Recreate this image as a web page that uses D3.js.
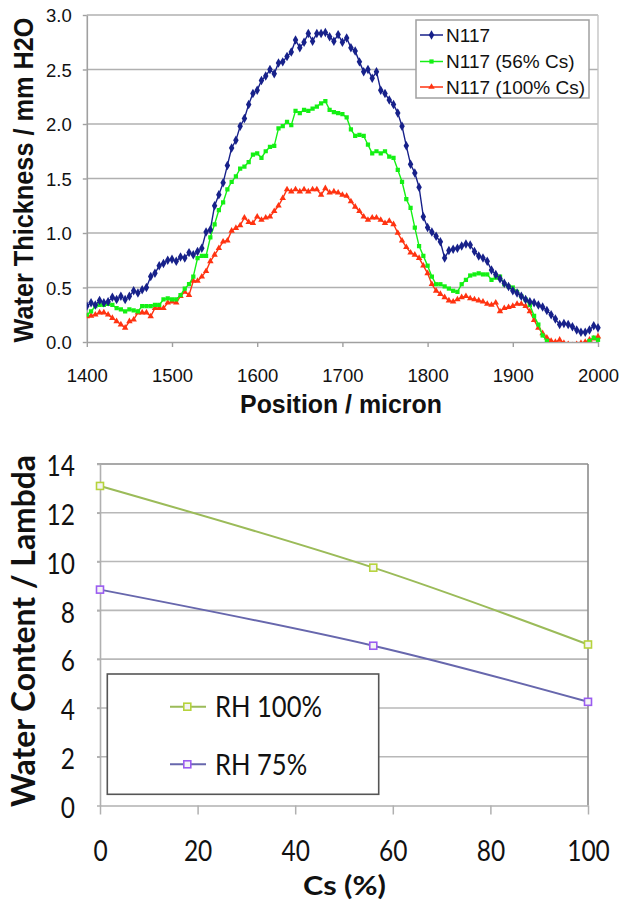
<!DOCTYPE html>
<html>
<head>
<meta charset="utf-8">
<script src="https://cdn.jsdelivr.net/npm/d3@7/dist/d3.min.js"></script>
<style>
  html, body { margin: 0; padding: 0; background: #fff; }
  svg { display: block; }
</style>
</head>
<body>
<svg id="chart" width="620" height="908"></svg>
<script>
// ---------- DATA: top chart ----------
const positions = [
  1400,1405,1410,1415,1420,1425,1430,1435,1440,1445,1450,1455,1460,1465,1470,1475,1480,1485,1490,1495,
  1500,1505,1510,1515,1520,1525,1530,1535,1540,1545,1550,1555,1560,1565,1570,1575,1580,1585,1590,1595,
  1600,1605,1610,1615,1620,1625,1630,1635,1640,1645,1650,1655,1660,1665,1670,1675,1680,1685,1690,1695,
  1700,1705,1710,1715,1720,1725,1730,1735,1740,1745,1750,1755,1760,1765,1770,1775,1780,1785,1790,1795,
  1800,1805,1810,1815,1820,1825,1830,1835,1840,1845,1850,1855,1860,1865,1870,1875,1880,1885,1890,1895,
  1900,1905,1910,1915,1920,1925,1930,1935,1940,1945,1950,1955,1960,1965,1970,1975,1980,1985,1990,1995,
  2000
];
const n117 = [
  0.33,0.36,0.34,0.38,0.36,0.37,0.41,0.39,0.42,0.39,0.42,0.47,0.45,0.48,0.50,0.60,0.63,0.70,0.72,0.75,
  0.76,0.74,0.78,0.77,0.82,0.80,0.83,0.86,1.01,1.03,1.25,1.35,1.46,1.62,1.78,1.85,1.98,2.05,2.18,2.28,
  2.31,2.40,2.44,2.50,2.46,2.56,2.57,2.62,2.66,2.77,2.70,2.75,2.83,2.76,2.83,2.83,2.84,2.80,2.76,2.82,
  2.75,2.79,2.70,2.67,2.57,2.48,2.50,2.42,2.48,2.31,2.28,2.22,2.18,2.10,1.98,1.80,1.63,1.55,1.42,1.15,
  1.05,1.01,0.97,0.92,0.77,0.84,0.85,0.86,0.88,0.90,0.89,0.83,0.79,0.77,0.74,0.66,0.62,0.58,0.54,0.51,
  0.47,0.45,0.42,0.39,0.37,0.36,0.34,0.32,0.29,0.25,0.21,0.16,0.17,0.16,0.14,0.11,0.09,0.09,0.11,0.15,
  0.13
];
const n117cs56 = [
  0.25,0.28,0.33,0.34,0.34,0.35,0.34,0.31,0.30,0.28,0.30,0.29,0.28,0.33,0.33,0.33,0.34,0.34,0.39,0.40,
  0.39,0.39,0.43,0.49,0.53,0.60,0.77,0.79,0.79,0.96,1.08,1.21,1.28,1.40,1.47,1.52,1.59,1.61,1.65,1.72,
  1.73,1.69,1.75,1.79,1.80,1.96,1.98,2.02,1.99,2.12,2.10,2.13,2.12,2.14,2.16,2.19,2.21,2.13,2.11,2.10,
  2.09,2.06,1.95,1.89,1.90,1.89,1.81,1.73,1.75,1.73,1.75,1.70,1.69,1.58,1.47,1.31,1.23,1.05,0.88,0.79,
  0.70,0.60,0.53,0.53,0.51,0.49,0.47,0.46,0.53,0.57,0.61,0.62,0.63,0.62,0.62,0.57,0.59,0.60,0.53,0.51,
  0.50,0.46,0.42,0.39,0.34,0.24,0.16,0.06,0.01,-0.03,-0.06,-0.08,-0.10,-0.10,-0.08,-0.06,-0.05,-0.03,0.01,0.04,
  0.02
];
const n117cs100 = [
  0.235,0.24,0.25,0.27,0.27,0.25,0.22,0.19,0.16,0.13,0.19,0.205,0.27,0.27,0.27,0.235,0.31,0.31,0.31,0.36,
  0.37,0.36,0.42,0.46,0.43,0.56,0.56,0.60,0.65,0.74,0.80,0.86,0.92,0.93,1.02,1.045,1.07,1.14,1.10,1.09,
  1.15,1.12,1.14,1.15,1.20,1.25,1.32,1.40,1.38,1.40,1.38,1.40,1.38,1.40,1.40,1.35,1.41,1.37,1.38,1.37,
  1.35,1.34,1.29,1.24,1.20,1.15,1.12,1.14,1.14,1.12,1.09,1.11,1.08,1.00,0.93,0.87,0.82,0.80,0.77,0.70,
  0.63,0.53,0.47,0.44,0.41,0.38,0.37,0.39,0.41,0.42,0.40,0.39,0.38,0.37,0.35,0.34,0.36,0.28,0.31,0.32,
  0.33,0.35,0.35,0.33,0.28,0.20,0.13,0.08,0.04,0.01,0.00,0.02,-0.01,-0.02,-0.03,-0.02,-0.01,0.00,0.02,0.03,
  0.05
];
const topSeriesNames = ["N117", "N117 (56% Cs)", "N117 (100% Cs)"];
const topXTicks = [1400, 1500, 1600, 1700, 1800, 1900, 2000];
const topYTicks = [0, 0.5, 1.0, 1.5, 2.0, 2.5, 3.0];
const topXTitle = "Position / micron";
const topYTitle = "Water Thickness / mm H2O";

// ---------- DATA: bottom chart ----------
const csPercent = [0, 56, 100];
const rh100 = [13.1, 9.75, 6.6];
const rh75 = [8.85, 6.55, 4.25];
const bottomSeriesNames = ["RH 100%", "RH 75%"];
const bottomXTicks = [0, 20, 40, 60, 80, 100];
const bottomYTicks = [0, 2, 4, 6, 8, 10, 12, 14];
const bottomXTitle = "Cs (%)";
const bottomYTitle = "Water Content / Lambda";

// ---------- helpers ----------
const svg = d3.select("#chart");
function fitText(sel, target) {
  const fs = parseFloat(sel.attr("font-size"));
  const w = sel.node().getComputedTextLength();
  if (w > 0) sel.attr("font-size", (fs * target / w).toFixed(2));
  return sel;
}
// text squeezed/stretched along its own direction so that it spans `target` px
function fitScale(sel, target) {
  const w = sel.node().getComputedTextLength();
  const k = w > 0 ? target / w : 1;
  sel.attr("transform", `scale(${k.toFixed(4)},1)`);
  return k;
}

// ================= TOP CHART =================
(function () {
  const ARIAL = "'Liberation Sans', Arial, sans-serif";
  const x = d3.scaleLinear().domain([1400, 2000]).range([86.8, 598]);
  const y = d3.scaleLinear().domain([0, 3]).range([342, 15]);
  const g = svg.append("g");

  g.append("g").selectAll("line").data(topYTicks.filter(d => d > 0)).join("line")
    .attr("x1", x(1400)).attr("x2", x(2000))
    .attr("y1", d => y(d)).attr("y2", d => y(d))
    .attr("stroke", "#b0b0b0").attr("stroke-width", 1.6);
  g.append("line").attr("x1", x(2000)).attr("x2", x(2000)).attr("y1", y(3)).attr("y2", y(0))
    .attr("stroke", "#c4c4c4").attr("stroke-width", 1.4);

  const ax = g.append("g").attr("transform", `translate(0,${y(0)})`)
    .call(d3.axisBottom(x).tickValues(topXTicks).tickSize(5).tickSizeOuter(0).tickFormat(d3.format("d")));
  ax.select(".domain").attr("stroke", "#a0a0a0").attr("stroke-width", 1.6);
  ax.selectAll(".tick line").attr("stroke", "#a0a0a0").attr("stroke-width", 1.4);
  ax.selectAll(".tick text").attr("y", 33).attr("dy", "0.36em")
    .attr("font-family", ARIAL).attr("font-size", 18.5).attr("fill", "#111");

  const ay = g.append("g").attr("transform", `translate(${x(1400)},0)`)
    .call(d3.axisLeft(y).tickValues(topYTicks).tickSize(4).tickSizeOuter(0).tickFormat(d3.format(".1f")));
  ay.select(".domain").attr("stroke", "#a0a0a0").attr("stroke-width", 1.6);
  ay.selectAll(".tick line").attr("stroke", "#a0a0a0").attr("stroke-width", 1.4);
  ay.selectAll(".tick text").attr("x", -15).attr("dy", "0.36em")
    .attr("font-family", ARIAL).attr("font-size", 18.5).attr("fill", "#111");

  svg.append("defs").append("clipPath").attr("id", "topClip")
    .append("rect").attr("x", x(1400)).attr("y", y(3) - 4).attr("width", x(2000) - x(1400) + 4).attr("height", y(0) - y(3) + 4);

  const series = [
    { name: topSeriesNames[0], values: n117, color: "#17218a", symbol: d3.symbolDiamond, size: 26 },
    { name: topSeriesNames[1], values: n117cs56, color: "#14f014", symbol: d3.symbolSquare, size: 18 },
    { name: topSeriesNames[2], values: n117cs100, color: "#ff3311", symbol: d3.symbolTriangle, size: 18 }
  ];
  const line = d3.line().x((d, i) => x(positions[i])).y(d => y(d));
  const plot = g.append("g").attr("clip-path", "url(#topClip)");
  [2, 1, 0].forEach(k => {
    const s = series[k];
    const sg = plot.append("g");
    sg.append("path").datum(s.values).attr("d", line)
      .attr("fill", "none").attr("stroke", s.color).attr("stroke-width", 1.4);
    sg.selectAll("path.m").data(s.values).join("path").attr("class", "m")
      .attr("transform", (d, i) => `translate(${x(positions[i])},${y(d)})`)
      .attr("d", d3.symbol().type(s.symbol).size(s.size))
      .attr("fill", s.color);
  });

  const lg = g.append("g");
  lg.append("rect").attr("x", 416).attr("y", 20).attr("width", 173).attr("height", 78)
    .attr("fill", "#fff").attr("stroke", "#a0a0a0").attr("stroke-width", 1.5);
  const rows = [35, 61.5, 87];
  series.forEach((s, i) => {
    const ry = rows[i];
    lg.append("line").attr("x1", 420).attr("x2", 443).attr("y1", ry).attr("y2", ry)
      .attr("stroke", s.color).attr("stroke-width", 1.5);
    lg.append("path").attr("transform", `translate(431.5,${ry})`)
      .attr("d", d3.symbol().type(s.symbol).size(s.size)).attr("fill", s.color);
    lg.append("text").attr("x", 446).attr("y", ry).attr("dy", "0.36em")
      .attr("font-family", ARIAL).attr("font-size", 19).attr("fill", "#111").text(s.name);
  });

  // titles
  fitText(g.append("text").attr("x", 341).attr("y", 413).attr("text-anchor", "middle")
    .attr("font-family", ARIAL).attr("font-weight", "bold").attr("font-size", 24).attr("fill", "#111")
    .text(topXTitle), 202);
  // y title: picture is stretched sideways, so the rotated glyphs are thicker
  const yt = g.append("g").attr("transform", "translate(33,180) scale(1.13,1) rotate(-90)");
  fitText(yt.append("text").attr("text-anchor", "middle")
    .attr("font-family", ARIAL).attr("font-weight", "bold").attr("font-size", 24).attr("fill", "#111")
    .text(topYTitle), 325);
})();

// ================= BOTTOM CHART =================
(function () {
  const CAL = "Lato, 'Open Sans', sans-serif";
  const SQ = 0.875; // Lato -> Calibri-like width
  const x = d3.scaleLinear().domain([0, 100]).range([100, 588]);
  const y = d3.scaleLinear().domain([0, 14]).range([805.5, 464]);
  const g = svg.append("g");

  g.append("g").selectAll("line").data(bottomYTicks.filter(d => d > 0)).join("line")
    .attr("x1", x(0) - 3).attr("x2", x(100))
    .attr("y1", d => y(d)).attr("y2", d => y(d))
    .attr("stroke", d => d === 14 ? "#8c8c8c" : "#b8b8b8").attr("stroke-width", 1.6);
  g.append("line").attr("x1", x(100)).attr("x2", x(100)).attr("y1", y(14)).attr("y2", y(0))
    .attr("stroke", "#8c8c8c").attr("stroke-width", 1.6);

  const ax = g.append("g").attr("transform", `translate(0,${y(0)})`)
    .call(d3.axisBottom(x).tickValues(bottomXTicks).tickSize(9).tickSizeOuter(0).tickFormat(d3.format("d")));
  ax.select(".domain").attr("stroke", "#b0b0b0").attr("stroke-width", 1.6);
  ax.selectAll(".tick line").attr("stroke", "#b0b0b0").attr("stroke-width", 1.5);
  ax.selectAll(".tick text").attr("y", 56).attr("dy", 0).attr("transform", `scale(${SQ},1)`)
    .attr("font-family", CAL).attr("font-size", 28).attr("fill", "#111");

  const ay = g.append("g").attr("transform", `translate(${x(0)},0)`)
    .call(d3.axisLeft(y).tickValues(bottomYTicks).tickSize(3).tickSizeOuter(0).tickFormat(d3.format("d")));
  ay.select(".domain").attr("stroke", "#b0b0b0").attr("stroke-width", 1.6);
  ay.selectAll(".tick line").attr("stroke", "#b0b0b0").attr("stroke-width", 1.5);
  ay.selectAll(".tick text").attr("x", -25 / SQ).attr("dy", "0.42em").attr("transform", `scale(${SQ},1)`)
    .attr("font-family", CAL).attr("font-size", 28).attr("fill", "#111");

  const series = [
    { name: bottomSeriesNames[0], values: rh100, line: "#9bbb59", mark: "#b6d33c" },
    { name: bottomSeriesNames[1], values: rh75, line: "#6767ad", mark: "#9a5cf0" }
  ];
  const line = d3.line().x((d, i) => x(csPercent[i])).y(d => y(d)).curve(d3.curveCatmullRom);
  series.forEach(s => {
    g.append("path").datum(s.values).attr("d", line)
      .attr("fill", "none").attr("stroke", s.line).attr("stroke-width", 2);
    g.selectAll(null).data(s.values).join("rect")
      .attr("x", (d, i) => x(csPercent[i]) - 3.5).attr("y", d => y(d) - 3.5)
      .attr("width", 7).attr("height", 7)
      .attr("fill", "#f4f4f4").attr("stroke", s.mark).attr("stroke-width", 1.6);
  });

  const lg = g.append("g");
  lg.append("rect").attr("x", 107.3).attr("y", 674).attr("width", 271.4).attr("height", 120.3)
    .attr("fill", "#fff").attr("stroke", "#555").attr("stroke-width", 1.6);
  const rows = [706.7, 764.3];
  let k0 = SQ;
  series.forEach((s, i) => {
    const ry = rows[i];
    lg.append("line").attr("x1", 170).attr("x2", 206).attr("y1", ry).attr("y2", ry)
      .attr("stroke", s.line).attr("stroke-width", 2);
    lg.append("rect").attr("x", 187.3 - 3.5).attr("y", ry - 3.5).attr("width", 7).attr("height", 7)
      .attr("fill", "#f4f4f4").attr("stroke", s.mark).attr("stroke-width", 1.6);
    const tg = lg.append("g").attr("transform", `translate(215,${ry})`);
    const t = tg.append("text").attr("dy", "0.36em")
      .attr("font-family", CAL).attr("font-size", 29.5).attr("fill", "#111").text(s.name);
    if (i === 0) k0 = fitScale(t, 107);
    else t.attr("transform", `scale(${k0.toFixed(4)},1)`);
  });

  // titles
  const xt = g.append("g").attr("transform", "translate(344.5,895)");
  fitScale(xt.append("text").attr("text-anchor", "middle")
    .attr("font-family", CAL).attr("font-weight", "bold").attr("font-size", 27).attr("fill", "#111")
    .text(bottomXTitle), 83);
  const yt = g.append("g").attr("transform", "translate(35,631) rotate(-90)");
  fitScale(yt.append("text").attr("text-anchor", "middle")
    .attr("font-family", CAL).attr("font-weight", "bold").attr("font-size", 32).attr("fill", "#111")
    .text(bottomYTitle), 352);
})();
</script>
</body>
</html>
